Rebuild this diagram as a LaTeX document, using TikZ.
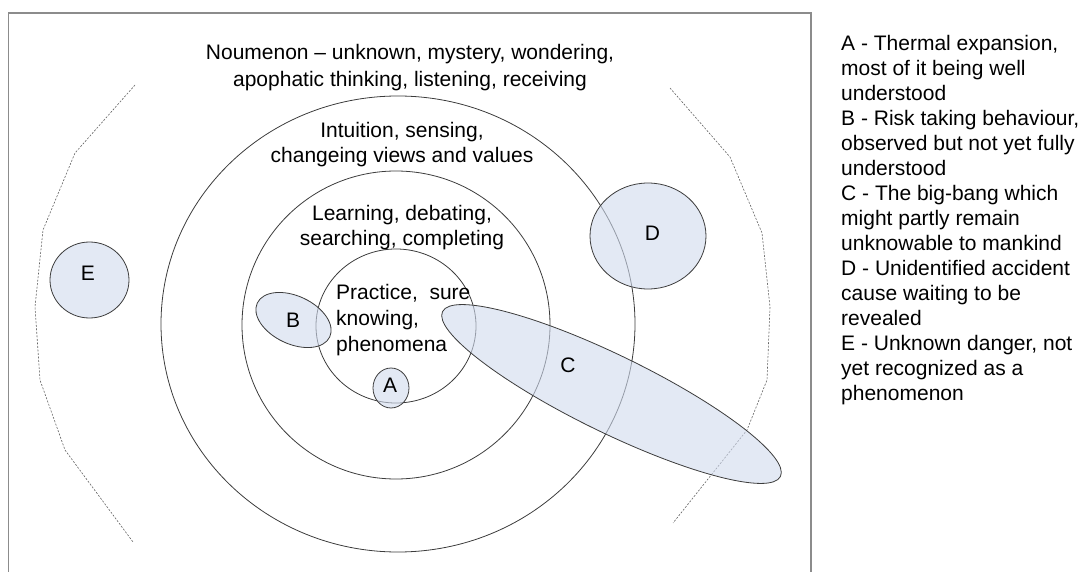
\documentclass[tikz,border=0pt]{standalone}
\usepackage{fontspec}
\setmainfont{Liberation Sans}
\definecolor{blobfill}{RGB}{208,218,237}
\definecolor{ringline}{RGB}{60,60,60}
\definecolor{framegray}{RGB}{140,140,140}

\begin{document}
\begin{tikzpicture}[x=1pt,y=-1pt,
  ring/.style={draw=ringline,line width=0.8pt},
  horizon/.style={draw=ringline!80,line width=0.6pt,dash pattern=on 2pt off 1.5pt},
  blob/.style={draw=ringline,line width=0.8pt,fill=blobfill,fill opacity=0.6},
  txt/.style={font=\fontsize{21}{26}\selectfont,inner sep=0pt,align=center},
  key/.style={font=\fontsize{21}{25}\selectfont,inner sep=0pt,align=left}]
  \useasboundingbox (0,0) rectangle (1084,572);
  % open frame, the bottom edge runs off the page
  \draw[framegray,line width=1.3pt] (8.5,600) -- (8.5,13) -- (811,13) -- (811,600);
  % dashed horizon left and right
  \draw[horizon] (135,85) -- (75,153) -- (43,230) -- (35,307) -- (40,380) -- (65,450) -- (133,542);
  \draw[horizon] (670,88) -- (730,157) -- (762,233) -- (770,307) -- (767,380) -- (747,430) -- (673,523);
  % the three rings
  \draw[ring] (398,324) ellipse (237 and 228);
  \draw[ring] (396,325) ellipse (154 and 154);
  \draw[ring] (396,326) ellipse (80 and 77);
  % cases A to E
  \draw[blob] (391,388) ellipse (18 and 20);
  \draw[blob,rotate around={-25:(293.5,320)}] (293.5,320) ellipse (40 and 24);
  \draw[blob,rotate around={-26:(611.5,394)}] (611.5,394) ellipse (188 and 38.6);
  \draw[blob] (648,236) ellipse (58 and 53);
  \draw[blob] (89.5,280) ellipse (39.5 and 38);
  \node[txt] (labA) at (390,385) {A};
  \node[txt] (labB) at (293,320) {B};
  \node[txt] (labC) at (568,365) {C};
  \node[txt] (labD) at (652.5,233) {D};
  \node[txt] (labE) at (88,273) {E};
  % ring texts
  \node[txt,font=\fontsize{21}{27}\selectfont] (noumenon) at (410,68)
    {Noumenon – unknown, mystery, wondering,\\apophatic thinking, listening, receiving};
  \node[txt,font=\fontsize{21}{25}\selectfont] (intuition) at (402,144.5)
    {Intuition, sensing,\\changeing views and values};
  \node[txt,font=\fontsize{21}{25}\selectfont] (learning) at (402,227.5)
    {Learning, debating,\\searching, completing};
  \node[txt,align=left,anchor=west] (practice) at (336,320.5)
    {Practice, \ sure\\knowing,\\phenomena};
  % key
  \node[key,anchor=north west] (key) at (841,35)
    {A - Thermal expansion,\\most of it being well\\understood\\
     B - Risk taking behaviour,\\observed but not yet fully\\understood\\
     C - The big-bang which\\might partly remain\\unknowable to mankind\\
     D - Unidentified accident\\cause waiting to be\\revealed\\
     E - Unknown danger, not\\yet recognized as a\\phenomenon};
\end{tikzpicture}
\end{document}
